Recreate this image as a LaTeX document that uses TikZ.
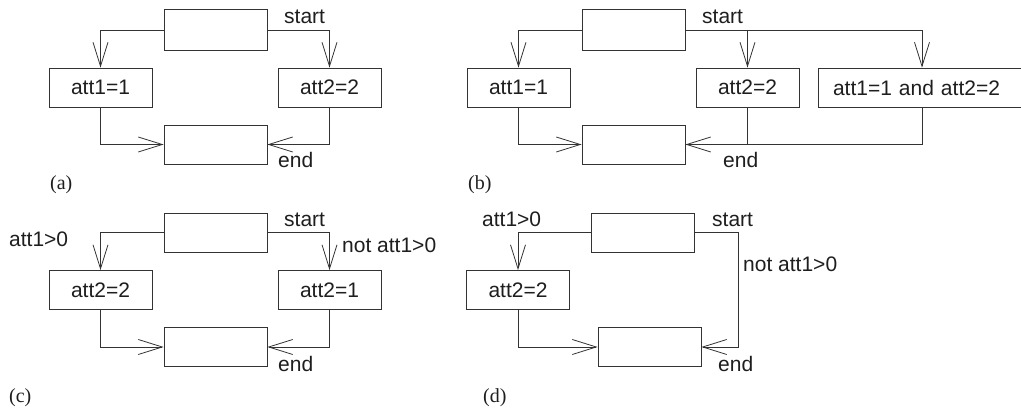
\documentclass[tikz,border=0pt]{standalone}
\usepackage{fontspec}
\setmainfont{Liberation Serif}
\setsansfont{Liberation Sans}
\usetikzlibrary{arrows.meta}
\definecolor{linegray}{HTML}{333333}
\definecolor{inkblack}{HTML}{1E1E1E}
\tikzset{
  box/.style={draw=linegray, line width=0.8pt, inner sep=0pt, minimum width=103pt,
    minimum height=39pt, font=\sffamily\fontsize{21}{24}\selectfont, text=inkblack},
  topbox/.style={box, minimum height=41pt},
  wire/.style={draw=linegray, line width=0.8pt},
  arr/.style={wire, -{Straight Barb[length=24pt, width=15pt, line width=0.8pt]}},
  lbl/.style={anchor=base west, inner sep=0pt, font=\sffamily\fontsize{21}{24}\selectfont, text=inkblack},
  subcaption/.style={anchor=base west, inner sep=0pt, font=\rmfamily\fontsize{20}{24}\selectfont, text=inkblack}
}
\begin{document}
\begin{tikzpicture}[x=1pt, y=-1pt]
\useasboundingbox (0,0) rectangle (1021,411);

% ---------- (a) ----------
\node[topbox] (aT) at (215.5,30) {};
\node[box] (aL) at (100.5,87.5) {att1=1};
\node[box] (aR) at (329.5,87.5) {att2=2};
\node[box] (aB) at (215.5,144.5) {};
\draw[arr] (aT.west) -| (aL.north);
\draw[arr] (aT.east) -| (aR.north);
\draw[arr] (aL.south) |- (aB.west);
\draw[arr] (aR.south) |- (aB.east);
\node[lbl] (aS) at (284,24) {start};
\node[lbl] (aE) at (278,168) {end};
\node[subcaption] (aC) at (50,190) {(a)};

% ---------- (b) ----------
\node[topbox] (bT) at (633.5,30) {};
\node[box] (bL) at (518.5,87.5) {att1=1};
\node[box] (bM) at (747.5,87.5) {att2=2};
\node[box, minimum width=208pt, text width=178pt, inner xsep=15pt, align=left] (bR) at (922,87.5) {att1=1 and att2=2};
\node[box] (bB) at (633.5,144.5) {};
\coordinate (bFork) at (bM.north |- bT.east);
\coordinate (bJoin) at (bM.south |- bB.east);
\draw[arr] (bT.west) -| (bL.north);
\draw[arr] (bT.east) -| (bR.north);
\draw[arr] (bFork) -- (bM.north);
\draw[arr] (bL.south) |- (bB.west);
\draw[arr] (bR.south) |- (bB.east);
\draw[wire] (bM.south) -- (bJoin);
\node[lbl] (bS) at (702,24) {start};
\node[lbl] (bE) at (723,168) {end};
\node[subcaption] (bC) at (468,190) {(b)};

% ---------- (c) ----------
\node[topbox, minimum height=39pt] (cT) at (215.5,232.5) {};
\node[box] (cL) at (100.5,290) {att2=2};
\node[box] (cR) at (329.5,290) {att2=1};
\node[box] (cB) at (215.5,347) {};
\draw[arr] (cT.west) -| (cL.north);
\draw[arr] (cT.east) -| (cR.north);
\draw[arr] (cL.south) |- (cB.west);
\draw[arr] (cR.south) |- (cB.east);
\node[lbl] (cG) at (9,246.5) {att1>0};
\node[lbl] (cS) at (284,227) {start};
\node[lbl] (cN) at (342,253) {not att1>0};
\node[lbl] (cE) at (278,372) {end};
\node[subcaption] (cC) at (9,403) {(c)};

% ---------- (d) ----------
\node[topbox, minimum height=39pt] (dT) at (643,232.5) {};
\node[box] (dL) at (518,290) {att2=2};
\node[box] (dB) at (649.5,347) {};
\coordinate (dTurn) at (738.5,232.5);
\draw[arr] (dT.west) -| (dL.north);
\draw[arr] (dL.south) |- (dB.west);
\draw[arr] (dT.east) -- (dTurn) |- (dB.east);
\node[lbl] (dG) at (482,227) {att1>0};
\node[lbl] (dS) at (712,227) {start};
\node[lbl] (dN) at (743,272) {not att1>0};
\node[lbl] (dE) at (718,372) {end};
\node[subcaption] (dC) at (483,403) {(d)};
\end{tikzpicture}
\end{document}
